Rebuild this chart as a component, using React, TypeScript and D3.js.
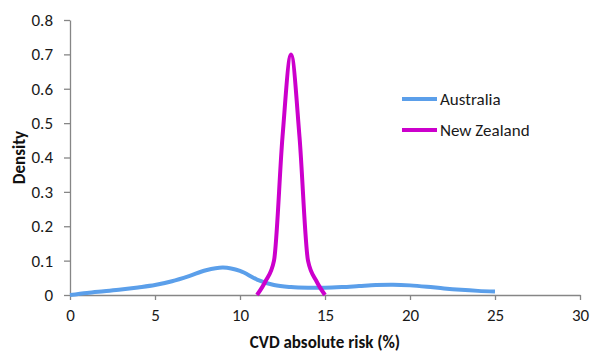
import { useEffect, useRef } from "react";
import * as d3 from "d3";

const risk = [0, 1, 2, 3, 4, 5, 6, 7, 8, 9, 10, 11, 12, 13, 14, 15, 16, 17, 18, 19, 20, 21, 22, 23, 24, 25];
const australia = [0.0, 0.006, 0.011, 0.016, 0.022, 0.029, 0.04, 0.055, 0.072, 0.08, 0.07, 0.045, 0.029, 0.023, 0.021, 0.021, 0.023, 0.026, 0.029, 0.03, 0.028, 0.024, 0.019, 0.015, 0.012, 0.01];
const nzRisk = [11, 11.5, 12, 12.5, 13, 13.5, 14, 14.5, 15];
const newZealand = [0.0, 0.04, 0.1, 0.46, 0.7, 0.46, 0.1, 0.04, 0.0];
const xTicks = [0, 5, 10, 15, 20, 25, 30];
const yTicks = [0, 0.1, 0.2, 0.3, 0.4, 0.5, 0.6, 0.7, 0.8];
const seriesNames = ["Australia", "New Zealand"];
const seriesColors = ["#5b9fea", "#cc00cc"];

export default function App() {
  const svgRef = useRef<SVGSVGElement>(null);

  useEffect(() => {
    if (!svgRef.current) return;
    const width = 590;
    const height = 352;
    const margin = { top: 20, right: 10, bottom: 57, left: 70 };
    const font = "Carlito, 'Open Sans', 'Noto Sans', sans-serif";
    const fs = "17px";

    const svg = d3.select(svgRef.current);
    svg.selectAll("*").remove();

    const x = d3.scaleLinear().domain([0, 30]).range([margin.left, width - margin.right]);
    const y = d3.scaleLinear().domain([0, 0.8]).range([height - margin.bottom, margin.top]);

    // axes
    const xAxis = svg.append("g")
      .attr("transform", `translate(0,${y(0)})`)
      .call(d3.axisBottom(x).tickValues(xTicks).tickSize(5).tickSizeOuter(0).tickPadding(9).tickFormat(d3.format("d")));
    const yAxis = svg.append("g")
      .attr("transform", `translate(${margin.left},0)`)
      .call(d3.axisLeft(y).tickValues(yTicks).tickSize(6).tickSizeOuter(0).tickPadding(11).tickFormat(d => (d === 0 ? "0" : d3.format(".1f")(d as number))));

    for (const g of [xAxis, yAxis]) {
      g.select(".domain").attr("stroke", "#868686").attr("stroke-width", 1.3);
      g.selectAll(".tick line").attr("stroke", "#868686").attr("stroke-width", 1.3);
      g.selectAll(".tick text").attr("fill", "#1a1a1a").attr("font-size", fs).attr("font-family", font);
    }

    // curves
    const lineAus = d3.line<[number, number]>()
      .x(d => x(d[0]))
      .y(d => y(d[1]))
      .curve(d3.curveCatmullRom.alpha(0));
    const lineNz = d3.line<[number, number]>()
      .x(d => x(d[0]))
      .y(d => y(d[1]))
      .curve(d3.curveMonotoneX);

    const series: [number, number][][] = [
      risk.map((r, i) => [r, australia[i]]),
      nzRisk.map((r, i) => [r, newZealand[i]]),
    ];

    series.forEach((pts, i) => {
      svg.append("path")
        .datum(pts)
        .attr("d", i === 0 ? lineAus : lineNz)
        .attr("fill", "none")
        .attr("stroke", seriesColors[i])
        .attr("stroke-width", 4)
        .attr("stroke-linejoin", "round");
    });

    // legend
    const legend = svg.append("g").attr("transform", "translate(402,99)");
    seriesNames.forEach((name, i) => {
      const row = legend.append("g").attr("transform", `translate(0,${i * 31})`);
      row.append("line")
        .attr("x1", 0).attr("x2", 35)
        .attr("stroke", seriesColors[i])
        .attr("stroke-width", 4);
      row.append("text")
        .attr("x", 38).attr("y", 6)
        .attr("font-size", fs)
        .attr("font-family", font)
        .attr("fill", "#1a1a1a")
        .text(name);
    });

    // axis titles
    svg.append("text")
      .attr("x", (margin.left + width - margin.right) / 2)
      .attr("y", 348)
      .attr("text-anchor", "middle")
      .attr("font-size", fs)
      .attr("font-weight", "bold")
      .attr("font-family", font)
      .attr("fill", "#111")
      .text("CVD absolute risk (%)");

    svg.append("text")
      .attr("transform", `translate(25,${(margin.top + height - margin.bottom) / 2}) rotate(-90)`)
      .attr("text-anchor", "middle")
      .attr("font-size", fs)
      .attr("font-weight", "bold")
      .attr("font-family", font)
      .attr("fill", "#111")
      .text("Density");
  }, []);

  return (
    <svg
      ref={svgRef}
      width={590}
      height={352}
      style={{ position: "absolute", left: 0, top: 0, background: "#fff" }}
    />
  );
}
